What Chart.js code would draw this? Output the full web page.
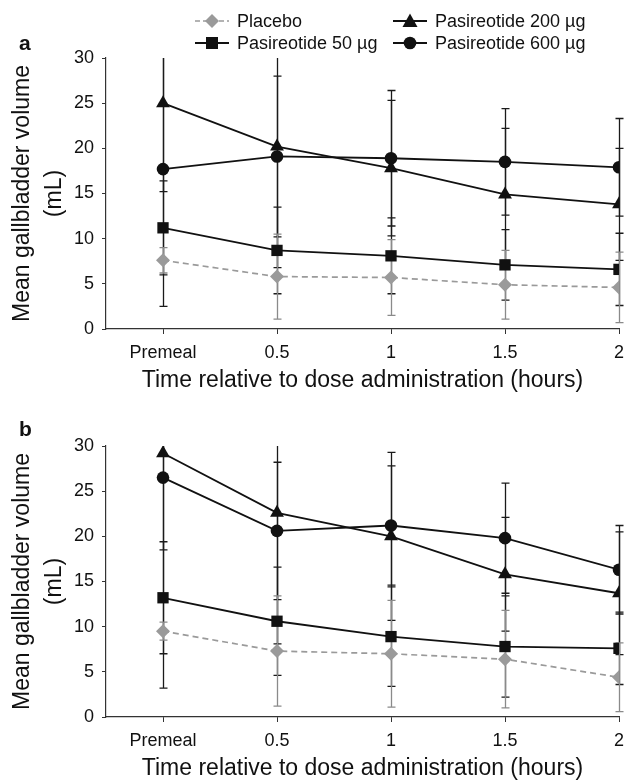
<!DOCTYPE html>
<html>
<head>
<meta charset="utf-8">
<title>Gallbladder volume</title>
<script src="https://cdn.jsdelivr.net/npm/chart.js@4.4.0/dist/chart.umd.min.js"></script>
<style>
  body { margin: 0; background: #fff; font-family: "Liberation Sans", Arial, sans-serif; color: #111; }
  #wrap { position: relative; width: 627px; height: 781px; overflow: hidden; }
  canvas { position: absolute; left: 0; }
  #chartA { top: 0; }
  #chartB { top: 388px; }
  .tag { position: absolute; font-weight: bold; font-size: 21px; left: 19px; }
  .leg { position: absolute; font-size: 18px; display: flex; align-items: center; white-space: nowrap; height: 20px; }
  .leg svg { margin-right: 8px; }
</style>
</head>
<body>
<div id="wrap">
  <canvas id="chartA" width="627" height="392"></canvas>
  <canvas id="chartB" width="627" height="392"></canvas>
  <div class="tag" style="top:31px">a</div>
  <div class="tag" style="top:417px">b</div>
  <div id="legend"></div>
</div>
<script>
// time points
var timeLabels = ['Premeal', '0.5', '1', '1.5', '2'];
var seriesNames = ['Placebo', 'Pasireotide 50 \u00b5g', 'Pasireotide 200 \u00b5g', 'Pasireotide 600 \u00b5g'];

// panel a: means (mL) and SD
var placeboA = [7.6, 5.8, 5.7, 4.9, 4.6];
var pas50A = [11.2, 8.7, 8.1, 7.1, 6.6];
var pas200A = [25.0, 20.2, 17.8, 14.9, 13.8];
var pas600A = [17.7, 19.1, 18.9, 18.5, 17.9];
var placeboSdA = [1.4, 4.7, 4.2, 3.8, 3.9];
var pas50SdA = [5.2, 4.8, 4.2, 3.9, 4.0];
var pas200SdA = [9.8, 13.4, 7.5, 7.3, 6.2];
var pas600SdA = [15.2, 8.9, 7.5, 5.9, 5.4];

// panel b: means (mL) and SD
var placeboB = [9.5, 7.3, 7.0, 6.4, 4.4];
var pas50B = [13.2, 10.6, 8.9, 7.8, 7.6];
var pas200B = [29.2, 22.6, 20.0, 15.8, 13.7];
var pas600B = [26.5, 20.6, 21.2, 19.8, 16.3];
var placeboSdB = [1.0, 6.1, 5.9, 5.4, 3.8];
var pas50SdB = [6.2, 6.0, 5.5, 5.6, 4.0];
var pas200SdB = [26.0, 14.5, 9.3, 6.3, 6.8];
var pas600SdB = [8.0, 7.6, 6.6, 6.1, 4.9];

var yTicks = [0, 5, 10, 15, 20, 25, 30];

var FONT = '"Liberation Sans", Arial, sans-serif';
var GREY = '#9a9a9a';
var BLACK = '#111';

function toPoints(arr) {
    return arr.map(function(v, i) { return { x: i, y: v }; });
}

// Draw error bars (SD) under the markers, clipped to the plot box
var errorBars = {
    id: 'errorBars',
    beforeDatasetsDraw: function(chart) {
        var ctx = chart.ctx;
        var xs = chart.scales.x, ys = chart.scales.y, area = chart.chartArea;
        ctx.save();
        ctx.beginPath();
        ctx.rect(area.left, area.top, area.right - area.left + 10, area.bottom - area.top);
        ctx.clip();
        for (var d = chart.data.datasets.length - 1; d >= 0; d--) {
            var ds = chart.data.datasets[d];
            ctx.strokeStyle = ds.barColor;
            ctx.lineWidth = 1.3;
            ds.data.forEach(function(p, i) {
                var x = Math.round(xs.getPixelForValue(p.x)) + 0.5;
                var hi = ys.getPixelForValue(p.y + ds.sd[i]);
                var lo = ys.getPixelForValue(p.y - ds.sd[i]);
                ctx.beginPath();
                ctx.moveTo(x, hi); ctx.lineTo(x, lo);
                ctx.moveTo(x - 4, hi); ctx.lineTo(x + 4, hi);
                ctx.moveTo(x - 4, lo); ctx.lineTo(x + 4, lo);
                ctx.stroke();
            });
        }
        ctx.restore();
    }
};

function makeDatasets(pl, p50, p200, p600, plSd, p50Sd, p200Sd, p600Sd) {
    return [{
        label: seriesNames[0], data: toPoints(pl), sd: plSd, barColor: '#8a8a8a',
        borderColor: GREY, backgroundColor: GREY, borderWidth: 1.7, borderDash: [6, 4],
        pointStyle: 'rectRot', pointRadius: 7, pointBorderWidth: 0
    }, {
        label: seriesNames[1], data: toPoints(p50), sd: p50Sd, barColor: '#1a1a1a',
        borderColor: BLACK, backgroundColor: BLACK, borderWidth: 1.8,
        pointStyle: 'rect', pointRadius: 8, pointBorderWidth: 0
    }, {
        label: seriesNames[2], data: toPoints(p200), sd: p200Sd, barColor: '#1a1a1a',
        borderColor: BLACK, backgroundColor: BLACK, borderWidth: 1.8,
        pointStyle: 'triangle', pointRadius: 8, pointBorderWidth: 0
    }, {
        label: seriesNames[3], data: toPoints(p600), sd: p600Sd, barColor: '#1a1a1a',
        borderColor: BLACK, backgroundColor: BLACK, borderWidth: 1.8,
        pointStyle: 'circle', pointRadius: 6.3, pointBorderWidth: 0
    }];
}

function makeOptions() {
    return {
        responsive: false,
        animation: false,
        devicePixelRatio: 1,
        layout: { padding: { top: 58, right: 6, left: 0, bottom: 0 } },
        plugins: { legend: { display: false }, tooltip: { enabled: false } },
        scales: {
            x: {
                type: 'linear', min: -0.5, max: 4,
                afterFit: function(s) {
                    s.height = 63;
                    // keep the last category right at the end of the axis
                    s.paddingLeft = 0;
                    s.paddingRight = 5;
                },
                ticks: {
                    stepSize: 1, includeBounds: false, autoSkip: false, maxRotation: 0,
                    padding: 8, color: '#111', font: { family: FONT, size: 18 },
                    callback: function(v) { return timeLabels[v] !== undefined ? timeLabels[v] : ''; }
                },
                grid: { drawOnChartArea: false, tickLength: 5, color: '#333' },
                border: { color: '#333', width: 1.2 },
                title: {
                    display: true, text: 'Time relative to dose administration (hours)',
                    color: '#111', font: { family: FONT, size: 23, lineHeight: 1 }, padding: { top: 0, bottom: 0 }
                }
            },
            y: {
                min: 0, max: 30,
                afterFit: function(s) { s.width = 106; },
                afterBuildTicks: function(s) { s.ticks = yTicks.map(function(v) { return { value: v }; }); },
                ticks: { padding: 8, color: '#111', font: { family: FONT, size: 18 } },
                grid: { drawOnChartArea: false, tickLength: 4, color: '#333' },
                border: { color: '#333', width: 1.2 },
                title: {
                    display: true, text: ['Mean gallbladder volume', '(mL)'],
                    color: '#111', font: { family: FONT, size: 23, lineHeight: 1.39 }, padding: { top: 7, bottom: 0 }
                }
            }
        }
    };
}

var chartA = new Chart(document.getElementById('chartA'), {
    type: 'line',
    data: { datasets: makeDatasets(placeboA, pas50A, pas200A, pas600A, placeboSdA, pas50SdA, pas200SdA, pas600SdA) },
    options: makeOptions(),
    plugins: [errorBars]
});

var chartB = new Chart(document.getElementById('chartB'), {
    type: 'line',
    data: { datasets: makeDatasets(placeboB, pas50B, pas200B, pas600B, placeboSdB, pas50SdB, pas200SdB, pas600SdB) },
    options: makeOptions(),
    plugins: [errorBars]
});

// legend as HTML, 2 x 2 grid (Placebo / 200 in first row, 50 / 600 in second)
var icons = [
    '<line x1="0" y1="8" x2="34" y2="8" stroke="' + GREY + '" stroke-width="1.7" stroke-dasharray="5,3"/><polygon points="17,1 24,8 17,15 10,8" fill="' + GREY + '"/>',
    '<line x1="0" y1="8" x2="34" y2="8" stroke="' + BLACK + '" stroke-width="1.8"/><rect x="11" y="2" width="12" height="12" fill="' + BLACK + '"/>',
    '<line x1="0" y1="8" x2="34" y2="8" stroke="' + BLACK + '" stroke-width="1.8"/><polygon points="17,0.5 24.5,14 9.5,14" fill="' + BLACK + '"/>',
    '<line x1="0" y1="8" x2="34" y2="8" stroke="' + BLACK + '" stroke-width="1.8"/><circle cx="17" cy="8" r="6.3" fill="' + BLACK + '"/>'
];
var legendPos = [[195, 11], [195, 33], [393, 11], [393, 33]];
var legendHtml = '';
seriesNames.forEach(function(name, i) {
    legendHtml += '<div class="leg" style="left:' + legendPos[i][0] + 'px;top:' + legendPos[i][1] + 'px">' +
        '<svg width="34" height="16">' + icons[i] + '</svg>' + name + '</div>';
});
document.getElementById('legend').innerHTML = legendHtml;
</script>
</body>
</html>
